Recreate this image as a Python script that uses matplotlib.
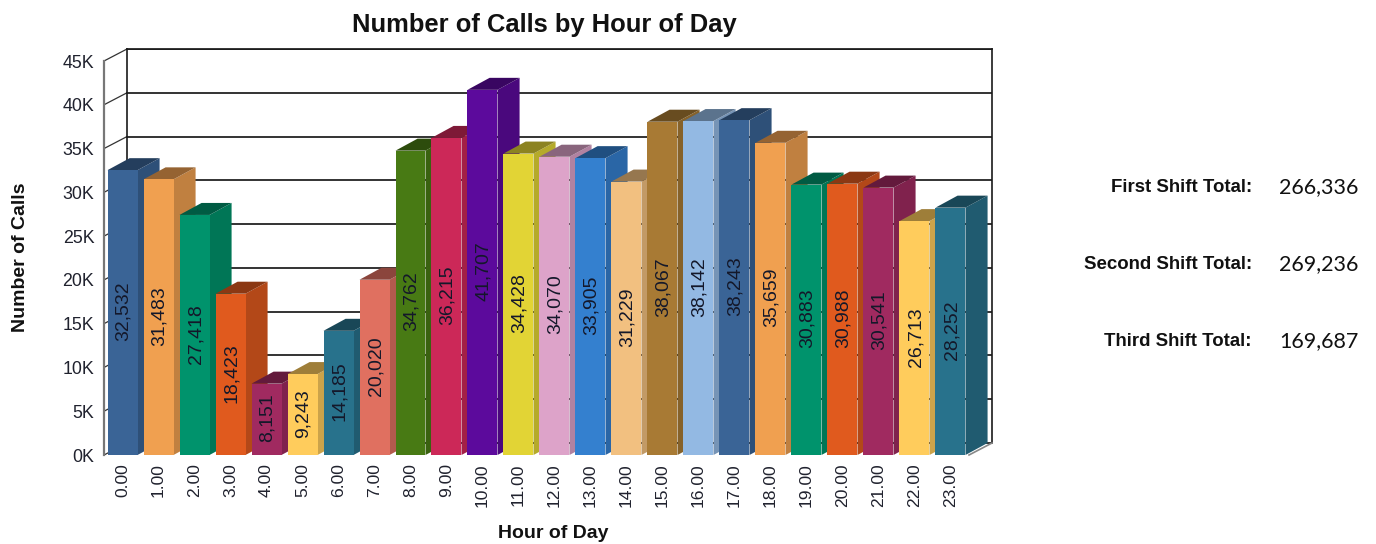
import matplotlib
matplotlib.use('Agg')
import matplotlib.pyplot as plt
from matplotlib.colors import to_rgb
from matplotlib.patches import Polygon

hours = ['0.00', '1.00', '2.00', '3.00', '4.00', '5.00', '6.00', '7.00', '8.00', '9.00', '10.00', '11.00',
         '12.00', '13.00', '14.00', '15.00', '16.00', '17.00', '18.00', '19.00', '20.00', '21.00', '22.00', '23.00']
calls = [32532, 31483, 27418, 18423, 8151, 9243, 14185, 20020, 34762, 36215, 41707, 34428,
         34070, 33905, 31229, 38067, 38142, 38243, 35659, 30883, 30988, 30541, 26713, 28252]
colors = ['#3a6496', '#f0a050', '#00936c', '#e05a1e', '#a02a60', '#ffcc5c', '#28728c', '#e07060',
          '#487a14', '#cc2858', '#5c0a9c', '#e2d435', '#dda3c9', '#3480cf', '#f2c080', '#a87a34',
          '#93b9e3', '#3a6496', '#f0a050', '#00936c', '#e05a1e', '#a02a60', '#ffcc5c', '#28728c']
y_ticks = [0, 5000, 10000, 15000, 20000, 25000, 30000, 35000, 40000, 45000]
y_tick_labels = ['0K', '5K', '10K', '15K', '20K', '25K', '30K', '35K', '40K', '45K']
shift_names = ['First Shift Total:', 'Second Shift Total:', 'Third Shift Total:']
shift_totals = ['266,336', '269,236', '169,687']

plt.rcParams['font.family'] = ['Liberation Sans', 'DejaVu Sans']
W, H = 1376, 544
TEXT = '#20222e'

fig = plt.figure(figsize=(W / 100, H / 100), dpi=100)
# front plane of the fake 3d box, in pixels: x 104-992, y 49-455
ax = fig.add_axes([104 / W, (H - 455) / H, (992 - 104) / W, (455 - 49) / H])
ax.set_xlim(-0.514, 24.153)
ax.set_ylim(0, 406 / 394 * 45000)
ax.patch.set_visible(False)

# depth of the box and the bars, in data units (36 px per hour, 8.76 px per 1000 calls)
depth_x = 23 / 36
depth_y = 12 / 8.76 * 1000
bar_w = 30 / 36
x_right = ax.get_xlim()[1]
y_top = ax.get_ylim()[1]

# back wall
for v in y_ticks:
    ax.plot([-0.514 + depth_x, x_right], [v + depth_y] * 2, color='#1a1a1a', lw=1.25, zorder=1)
    ax.plot([-0.514, -0.514 + depth_x], [v, v + depth_y], color='#333333', lw=0.9, zorder=1, clip_on=False)
ax.plot([-0.514 + depth_x] * 2, [depth_y, y_top], color='#1a1a1a', lw=1.2, zorder=1, clip_on=False)
ax.plot([x_right] * 2, [depth_y, y_top], color='#1a1a1a', lw=1.2, zorder=1, clip_on=False)
ax.plot([-0.514 + depth_x, x_right], [y_top] * 2, color='#1a1a1a', lw=1.25, zorder=1, clip_on=False)
ax.plot([x_right - depth_x, x_right], [0, depth_y], color='#888888', lw=1.2, zorder=1, clip_on=False)

# bars, left to right so each one covers the side of the one before
for i, (value, color) in enumerate(zip(calls, colors)):
    rgb = to_rgb(color)
    side = tuple(c * 0.8 for c in rgb)
    top = tuple(c * 0.62 for c in rgb)
    x0 = i - bar_w / 2
    x1 = i + bar_w / 2
    z = 2 + i
    ax.add_patch(Polygon([(x1, 0), (x1 + depth_x * 0.96, depth_y), (x1 + depth_x * 0.96, value + depth_y), (x1, value)],
                         facecolor=side, edgecolor='none', zorder=z, clip_on=False))
    ax.add_patch(Polygon([(x0, value), (x1, value), (x1 + depth_x * 0.96, value + depth_y), (x0 + depth_x * 0.96, value + depth_y)],
                         facecolor=top, edgecolor='none', zorder=z, clip_on=False))
    ax.bar(i, value, width=bar_w, color=color, zorder=z)
    ax.text(i + 0.03, value / 2 + 150, f'{value:,}', rotation=90, ha='center', va='center',
            fontsize=14, color='#14182a', zorder=z)

ax.set_xticks(range(len(hours)))
ax.set_xticklabels(hours, rotation=90, fontsize=12.6, color=TEXT)
ax.set_yticks(y_ticks)
ax.set_yticklabels(y_tick_labels, fontsize=12.8, color=TEXT)
ax.tick_params(axis='x', length=0, pad=6)
ax.tick_params(axis='y', length=0, pad=7)
for name in ['top', 'right', 'bottom']:
    ax.spines[name].set_visible(False)
ax.spines['left'].set_bounds(0, 45000)
ax.spines['left'].set_color('#777777')
ax.spines['left'].set_linewidth(1.6)

fig.text(544 / W, 1 - 25 / H, 'Number of Calls by Hour of Day', ha='center', va='center',
         fontsize=18.4, fontweight='bold', color='#111111')
fig.text(553 / W, 1 - 533 / H, 'Hour of Day', ha='center', va='center',
         fontsize=14, fontweight='bold', color='#111111')
fig.text(21 / W, 1 - 257 / H, 'Number of Calls', ha='center', va='center', rotation=90,
         fontsize=14, fontweight='bold', color='#111111')

for name, total, y in zip(shift_names, shift_totals, [188, 265, 342]):
    fig.text(1252 / W, 1 - y / H, name, ha='right', va='center',
             fontsize=13.4, fontweight='bold', color='#111111')
    fig.text(1279 / W, 1 - (y - 1) / H, total, ha='left', va='center',
             fontsize=15.5, color='#111111', family=['Lato', 'DejaVu Sans'])

fig.savefig('out.png', dpi=100)
